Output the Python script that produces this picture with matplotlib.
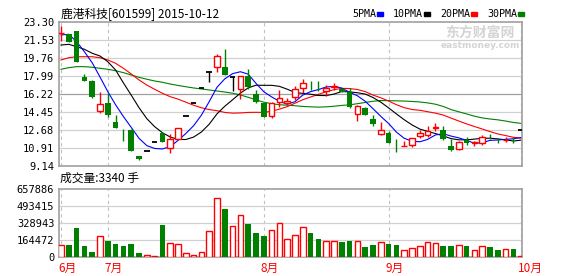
import numpy as np
import matplotlib
matplotlib.use("Agg")
import matplotlib.pyplot as plt

# ────────────────────────────────────────────────────────────────
# DATA (601599, Jun–Oct 2015)
# ────────────────────────────────────────────────────────────────
opens  = [22.17, 22.09, 22.41, 17.85, 17.49, 14.50, 15.29, 13.48, 11.80, 12.66,
          10.10, 10.59, 11.45, 12.40, 10.88, 11.77, 14.01, 15.29, 16.75, 18.34,
          18.90, 18.84, 17.85, 16.67, 17.98, 16.21, 15.29, 14.07, 15.39, 15.32,
          15.88, 16.83, 17.02, 16.79, 16.53, 16.91, 16.67, 16.44, 14.21, 14.86,
          13.74, 12.24, 12.40, 10.78, 11.11, 11.18, 12.10, 12.17, 12.87, 12.66,
          11.08, 10.79, 11.68, 11.38, 11.41, 11.96, 11.70, 11.66, 11.71, 12.66]
highs  = [22.91, 22.15, 22.41, 18.18, 17.55, 16.40, 16.27, 14.14, 12.76, 12.75,
          10.12, 10.59, 11.45, 12.45, 12.23, 12.85, 14.01, 15.29, 16.75, 18.34,
          20.12, 20.64, 17.85, 17.98, 18.67, 16.60, 15.32, 15.40, 16.60, 15.84,
          17.00, 17.66, 17.49, 17.49, 17.07, 17.33, 16.80, 16.77, 15.10, 14.90,
          14.14, 13.42, 12.55, 11.74, 11.57, 11.90, 12.66, 13.05, 13.32, 13.05,
          11.74, 11.55, 11.94, 11.60, 12.17, 12.23, 11.84, 11.94, 12.00, 12.66]
lows   = [21.46, 21.30, 19.39, 17.50, 15.85, 14.36, 13.91, 12.85, 11.61, 10.60,
          9.70, 10.59, 11.45, 11.43, 10.42, 11.75, 14.01, 15.29, 16.75, 17.42,
          18.40, 18.05, 16.54, 15.69, 16.67, 15.30, 13.92, 13.87, 14.90, 15.20,
          15.62, 16.34, 16.60, 16.50, 16.01, 16.60, 16.40, 14.85, 13.58, 14.10,
          13.05, 12.20, 11.40, 10.52, 11.11, 11.01, 11.84, 12.00, 12.56, 11.70,
          10.62, 10.70, 11.18, 11.11, 11.18, 11.74, 11.41, 11.51, 11.41, 12.66]
closes = [22.21, 21.36, 19.39, 17.52, 15.94, 15.19, 14.17, 12.89, 11.75, 10.62,
          9.77, 10.59, 11.45, 11.50, 11.77, 12.83, 14.01, 15.29, 16.75, 18.34,
          19.95, 18.08, 17.85, 17.98, 16.93, 15.42, 13.97, 15.29, 15.78, 15.52,
          16.67, 17.26, 16.98, 16.75, 16.83, 16.95, 16.44, 14.90, 15.03, 14.14,
          13.28, 12.66, 11.41, 10.74, 11.13, 11.84, 12.40, 12.56, 12.91, 11.74,
          10.69, 11.51, 11.35, 11.44, 12.00, 11.92, 11.66, 11.70, 11.67, 12.66]
volume = [111e3, 113e3, 283e3, 104e3, 48e3, 202e3, 153e3, 124e3, 104e3, 124e3,
          36e3, 16e3, 7e3, 309e3, 133e3, 120e3, 33e3, 16e3, 42e3, 247e3,
          569e3, 465e3, 296e3, 403e3, 319e3, 231e3, 202e3, 260e3, 325e3, 172e3,
          211e3, 290e3, 231e3, 172e3, 153e3, 153e3, 143e3, 153e3, 153e3, 94e3,
          114e3, 143e3, 124e3, 114e3, 65e3, 85e3, 104e3, 140e3, 133e3, 104e3,
          104e3, 114e3, 104e3, 65e3, 104e3, 94e3, 65e3, 75e3, 75e3, 3340]

ma5  = [22.02, 22.09, 21.36, 20.37, 19.28, 17.88, 16.44, 15.14, 13.99, 12.92,
        11.84, 11.12, 10.84, 10.79, 11.02, 11.63, 12.31, 13.08, 14.12, 15.45,
        16.87, 17.70, 18.21, 18.40, 18.16, 17.25, 16.43, 15.92, 15.48, 15.20,
        15.45, 16.10, 16.44, 16.64, 16.90, 16.95, 16.79, 16.37, 16.03, 15.49,
        14.76, 14.00, 13.30, 12.45, 11.84, 11.56, 11.50, 11.73, 12.17, 12.29,
        12.06, 11.88, 11.64, 11.35, 11.40, 11.64, 11.67, 11.74, 11.79, 11.92]
ma10 = [21.03, 21.10, 20.87, 20.61, 20.22, 19.95, 19.39, 18.57, 17.30, 16.10,
        14.86, 13.78, 12.99, 12.39, 11.97, 11.73, 11.72, 11.96, 12.46, 13.23,
        14.25, 15.00, 15.64, 16.29, 16.81, 17.07, 17.06, 17.06, 16.96, 16.68,
        16.35, 16.27, 16.18, 16.06, 16.05, 16.20, 16.45, 16.41, 16.33, 16.20,
        15.86, 15.40, 14.84, 14.24, 13.67, 13.16, 12.75, 12.52, 12.31, 12.07,
        11.81, 11.69, 11.69, 11.76, 11.84, 11.85, 11.78, 11.69, 11.57, 11.66]
ma20 = [19.56, 19.78, 19.88, 19.88, 19.88, 19.78, 19.56, 19.23, 18.74, 18.18,
        17.59, 17.09, 16.67, 16.28, 15.94, 15.70, 15.40, 15.10, 14.85, 14.67,
        14.56, 14.39, 14.32, 14.34, 14.39, 14.40, 14.39, 14.51, 14.71, 14.96,
        15.30, 15.64, 15.91, 16.17, 16.43, 16.63, 16.76, 16.74, 16.65, 16.44,
        16.10, 15.83, 15.51, 15.15, 14.86, 14.68, 14.60, 14.46, 14.32, 14.13,
        13.83, 13.54, 13.26, 13.00, 12.76, 12.50, 12.27, 12.11, 11.94, 11.86]
ma30 = [18.64, 18.80, 18.90, 18.90, 18.84, 18.74, 18.64, 18.50, 18.31, 18.08,
        17.85, 17.66, 17.49, 17.36, 17.19, 17.05, 16.92, 16.80, 16.70, 16.60,
        16.50, 16.40, 16.28, 16.11, 15.88, 15.62, 15.40, 15.25, 15.15, 15.10,
        15.05, 14.98, 14.94, 14.91, 14.94, 15.00, 15.08, 15.14, 15.25, 15.37,
        15.49, 15.56, 15.55, 15.53, 15.51, 15.47, 15.42, 15.33, 15.20, 14.98,
        14.67, 14.45, 14.24, 14.02, 13.85, 13.74, 13.66, 13.54, 13.40, 13.31]

price_ticks  = [9.14, 10.91, 12.68, 14.45, 16.22, 17.99, 19.76, 21.53, 23.30]
volume_ticks = [0, 164472, 328943, 493415, 657886]
month_idx    = [0, 6, 26, 42, 59]
month_labels = ["6月", "7月", "8月", "9月", "10月"]
ma_names     = ["5PMA", "10PMA", "20PMA", "30PMA"]

# ────────────────────────────────────────────────────────────────
RED, GREEN, BLUE = "#ff0000", "#008000", "#0000ff"
BORDER, GRID = "#a0a0a0", "#d0d0d0"
CJK = ["Noto Sans CJK SC", "DejaVu Sans"]
MONO = "DejaVu Sans Mono"
W, H = 578, 276

fig = plt.figure(figsize=(W / 100, H / 100), dpi=100)

def px_ax(l, t, r, b):
    return fig.add_axes([l / W, 1 - b / H, (r - l) / W, (b - t) / H])

def ftext(x, y, s, **kw):
    fig.text(x / W, 1 - y / H, s, **kw)

ax = px_ax(58.5, 22, 522, 165.7)
axv = px_ax(58.5, 189.3, 522, 256.7)

n = len(closes)
x = np.arange(n)
XLIM = (-0.32, 59.1)
BW = 0.73

for a in (ax, axv):
    a.set_xlim(*XLIM)
    a.set_xticks([])
    for s in a.spines.values():
        s.set_color(BORDER)
        s.set_linewidth(1.2)
    for m in month_idx:
        a.axvline(m, color="#c0c0c0", lw=0.8, ls=(0, (3, 3)), zorder=0)
    a.tick_params(axis="y", length=0, pad=3, labelsize=7.5)

# price panel
ax.set_ylim(price_ticks[0], price_ticks[-1])
ax.set_yticks(price_ticks)
ax.set_yticklabels([f"{v:.2f}" for v in price_ticks], family=MONO, fontsize=7.5)
for v in price_ticks[1:-1]:
    ax.axhline(v, color=BORDER if v == 16.22 else GRID, lw=0.9, zorder=0)

ax.plot(x, ma30, color=GREEN, lw=0.8, zorder=2)
ax.plot(x, ma20, color=RED, lw=0.8, zorder=2)
ax.plot(x, ma10, color="black", lw=0.8, zorder=2)
ax.plot(x, ma5, color=BLUE, lw=0.8, zorder=2)

for i in range(n):
    o, h, l, c = opens[i], highs[i], lows[i], closes[i]
    if c > o:
        ax.vlines(i, c, h, color=RED, lw=1, zorder=3)
        ax.vlines(i, l, o, color=RED, lw=1, zorder=3)
        ax.bar(i, c - o, bottom=o, width=BW, facecolor="white",
               edgecolor=RED, lw=1, zorder=4)
    elif c < o:
        ax.vlines(i, l, h, color=GREEN, lw=1, zorder=3)
        ax.bar(i, o - c, bottom=c, width=BW, color=GREEN, lw=0, zorder=4)
    else:
        ax.vlines(i, l, h, color="black", lw=1, zorder=3)
        ax.hlines(c, i - BW / 2, i + BW / 2, color="black", lw=1.3, zorder=4)

# volume panel
axv.set_ylim(0, volume_ticks[-1])
axv.set_yticks(volume_ticks)
axv.set_yticklabels([str(v) for v in volume_ticks], family=MONO, fontsize=7.5)
for v in volume_ticks[1:-1]:
    axv.axhline(v, color=GRID, lw=0.9, zorder=0)
for i in range(n):
    if closes[i] >= opens[i]:
        axv.bar(i, volume[i], width=BW, facecolor="white", edgecolor=RED,
                lw=1, zorder=3)
    else:
        axv.bar(i, volume[i], width=BW, color=GREEN, lw=0, zorder=3)

# month labels under volume panel
for m, lab in zip(month_idx, month_labels):
    xp = 58.5 + (m - XLIM[0]) / (XLIM[1] - XLIM[0]) * (522 - 58.5)
    ftext(xp - 3, 268, lab, color=RED, family=CJK, fontsize=8.5,
          ha="left", va="center")

# header texts
ftext(61, 14, "鹿港科技[601599] 2015-10-12", family=CJK, fontsize=8.5,
      va="center")
ftext(60, 178, "成交量:3340 手", family=CJK, fontsize=8.5, va="center")

# MA legend, top right
xl = 352
for name, col in zip(ma_names, [BLUE, "black", RED, GREEN]):
    ftext(xl, 14, name, family=MONO, fontsize=7.2, va="center")
    xl += len(name) * 6.0 + 1
    fig.patches.append(plt.Rectangle((xl / W, 1 - 15.5 / H), 6 / W, 3 / H,
                                     transform=fig.transFigure, color=col))
    xl += 16

# watermark
ftext(480, 33, "东方财富网", family=CJK, fontsize=10, color="#d4d4d4",
      weight="bold", ha="center", va="center", zorder=0)
ftext(480, 46, "eastmoney.com", family="DejaVu Sans", fontsize=6.5,
      color="#d4d4d4", weight="bold", ha="center", va="center", zorder=0)

fig.savefig("out.png", dpi=100)
